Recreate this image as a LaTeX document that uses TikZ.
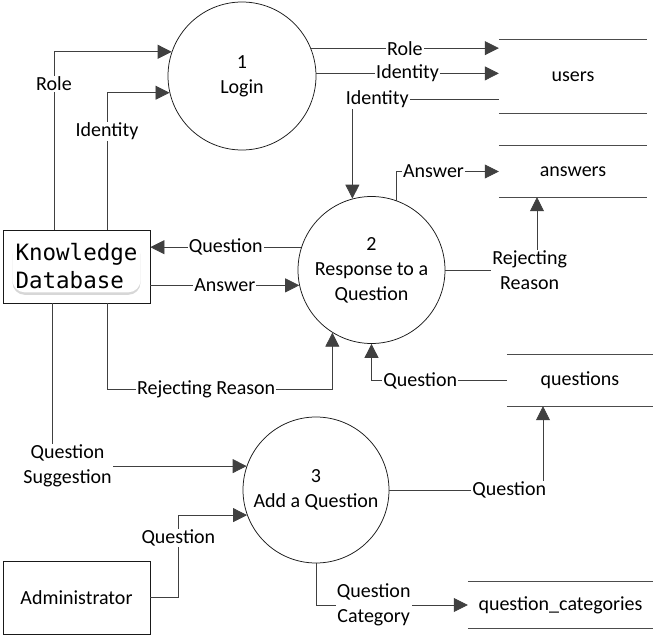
\documentclass[tikz,border=0pt]{standalone}
\usepackage{fontspec}
\setmainfont{Carlito}
\newfontfamily\kdmono{DejaVu Sans Mono}
\usetikzlibrary{arrows.meta,shadows}
\newcommand\lblfont{\fontsize{20}{25}\selectfont}
\begin{document}
\begin{tikzpicture}[x=1pt,y=-1pt,
  line/.style={draw=black!75, line width=0.75pt},
  arr/.style={line, -{Triangle[length=14pt,width=14pt]}},
  proc/.style={circle, draw=black!90, line width=0.75pt, inner sep=0pt, align=center, font=\lblfont},
  entity/.style={rectangle, draw=black!90, line width=0.75pt, minimum width=147pt, minimum height=73pt, inner sep=0pt, font=\lblfont},
  store/.style={rectangle, inner sep=0pt, font=\lblfont},
  storeline/.style={draw=black!70, line width=0.75pt},
  lbl/.style={fill=white, inner sep=1pt, align=center, font=\lblfont},
  kdtext/.style={fill=white, rounded corners=12pt, inner sep=3pt, align=left,
     font=\kdmono\fontsize{22.5}{28}\selectfont,
     drop shadow={shadow xshift=0pt, shadow yshift=-2.5pt, opacity=0.35, fill=black!45}}]
\useasboundingbox (0,0) rectangle (659,642);

% processes
\node[proc, minimum size=148pt] (c1) at (242,76) {1\\Login};
\node[proc, minimum size=147pt] (c2) at (371.5,270) {2\\Response to a\\Question};
\node[proc, minimum size=146pt] (c3) at (316,490) {3\\Add a Question};

% entities
\node[entity] (KD) at (76.5,266.5) {};
\node[kdtext] (kdt) at (KD.center) {Knowledge\\Database};
\node[entity] (Adm) at (76.5,597.5) {Administrator};

% data stores
\node[store, minimum width=148pt, minimum height=73pt] (users) at (573,76.5) {users};
\node[store, minimum width=148pt, minimum height=51pt] (answers) at (573,171.5) {answers};
\node[store, minimum width=146pt, minimum height=51pt] (questions) at (580,380.5) {questions};
\node[store, minimum width=185pt, minimum height=46pt] (qc) at (560.5,605) {question\_categories};
\foreach \s in {users,answers,questions,qc}{
  \draw[storeline] (\s.north west) -- (\s.north east);
  \draw[storeline] (\s.south west) -- (\s.south east);
}

% flows: Knowledge Database -> Login
\draw[arr] ([xshift=-22.5pt]KD.north) |- node[lbl,pos=0.41]{Role} (c1.161.1);
\draw[arr] ([xshift=30.5pt]KD.north) |- node[lbl,pos=0.36]{Identity} (c1.193.3);

% Login -> users
\draw[arr] (c1.22) -- node[lbl]{Role} (c1.22 -| users.west);
\draw[arr] (c1.2.3) -- node[lbl]{Identity} (c1.2.3 -| users.west);

% users -> Response
\draw[arr] ([yshift=-22.5pt]users.west) -| node[lbl,pos=0.415]{Identity} (c2.105);

% Response <-> Knowledge Database
\draw[arr] (c2.162.6) -- node[lbl]{Question} (c2.162.6 -| KD.east);
\draw[arr] (KD.east |- c2.192.6) -- node[lbl]{Answer} (c2.192.6);

% Response -> answers
\draw[arr] (c2.70.5) |- node[lbl,pos=0.68]{Answer} (answers.west);
\draw[arr] (c2.east) -| node[lbl,pos=0.46]{Rejecting\\Reason} ([xshift=-36pt]answers.south);

% Knowledge Database -> Response (Rejecting Reason)
\draw[arr] ([xshift=30.5pt]KD.south) -- ++(0,86) -| node[lbl,pos=0.22]{Rejecting Reason} (c2.238.4);

% questions -> Response
\draw[arr] (questions.west) -| node[lbl,pos=0.32]{Question} (c2.south);

% Knowledge Database -> Add a Question
\draw[arr] ([xshift=-24.5pt]KD.south) |- node[lbl,pos=0.54]{Question\\Suggestion} (c3.161.6);

% Administrator -> Add a Question
\draw[arr] (Adm.east) -- ++(28,0) |- node[lbl,pos=0.36]{Question} (c3.200);

% Add a Question -> questions
\draw[arr] (c3.east) -| node[lbl,pos=0.39]{Question} ([xshift=-37pt]questions.south);

% Add a Question -> question_categories
\draw[arr] (c3.south) |- node[lbl,pos=0.69]{Question\\Category} (qc.west);
\end{tikzpicture}
\end{document}
